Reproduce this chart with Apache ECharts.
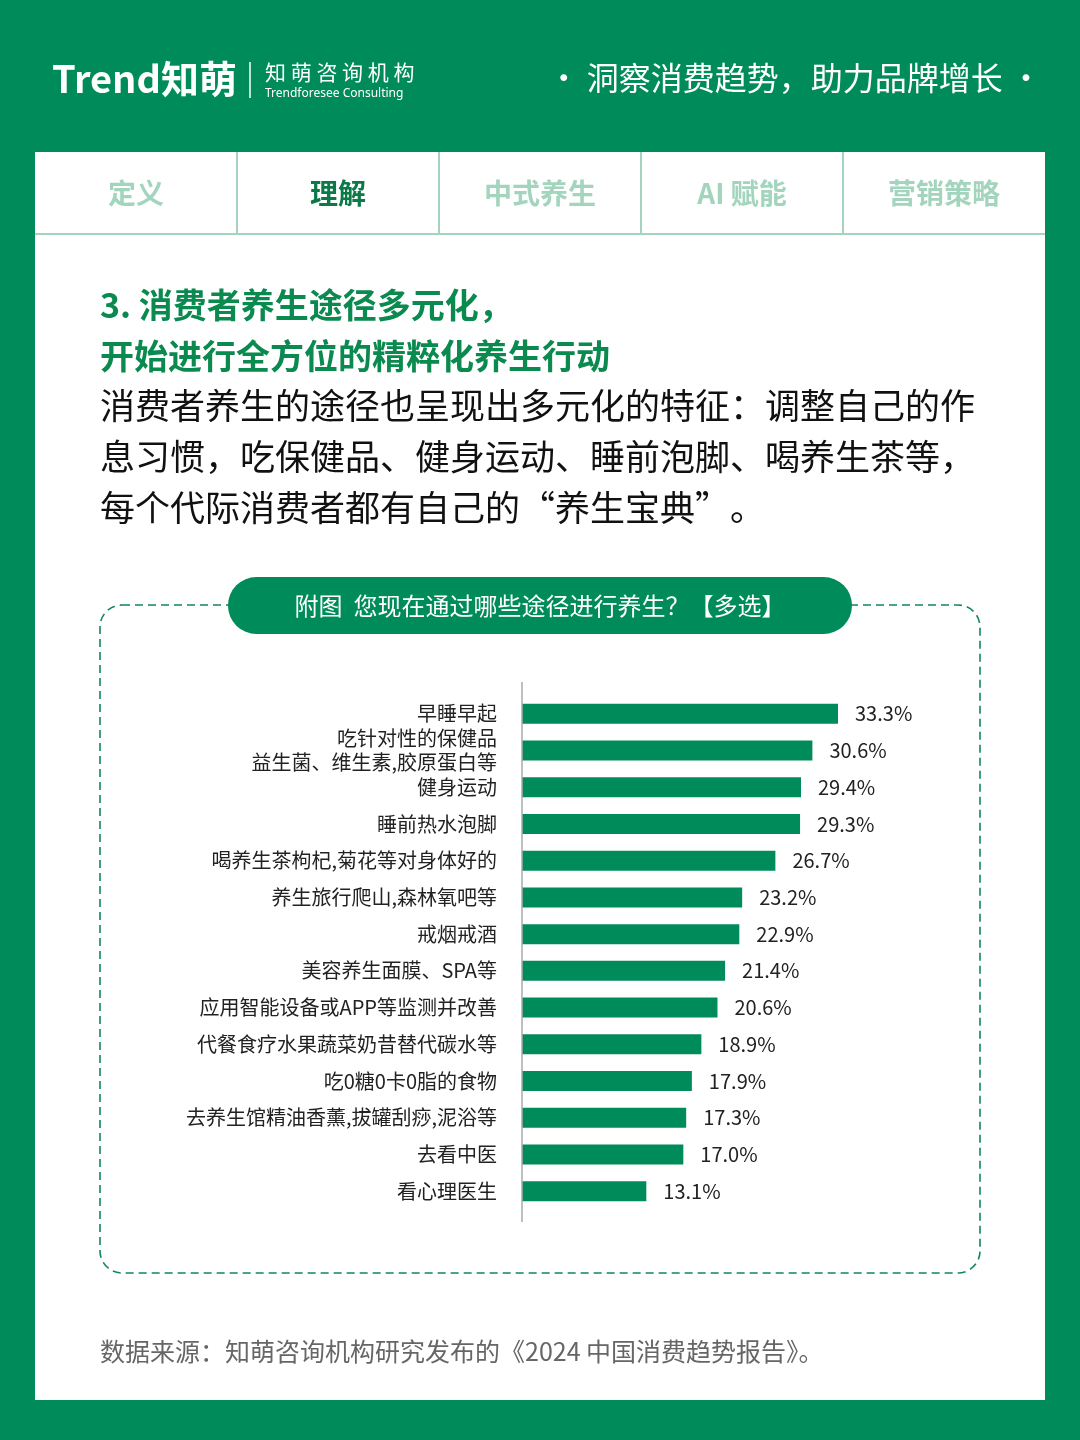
<!DOCTYPE html>
<html>
<head>
<meta charset="utf-8">
<script src="https://cdn.jsdelivr.net/npm/echarts@6/dist/echarts.min.js"></script>
<style>
html,body{margin:0;padding:0;background:#008c5a;}
#main{width:1080px;height:1440px;}
</style>
</head>
<body>
<div id="main"></div>
<script>
// ---- data ----
const categories = [
  '早睡早起',
  '吃针对性的保健品\n益生菌、维生素,胶原蛋白等',
  '健身运动',
  '睡前热水泡脚',
  '喝养生茶枸杞,菊花等对身体好的',
  '养生旅行爬山,森林氧吧等',
  '戒烟戒酒',
  '美容养生面膜、SPA等',
  '应用智能设备或APP等监测并改善',
  '代餐食疗水果蔬菜奶昔替代碳水等',
  '吃0糖0卡0脂的食物',
  '去养生馆精油香薰,拔罐刮痧,泥浴等',
  '去看中医',
  '看心理医生'
];
const values = [33.3, 30.6, 29.4, 29.3, 26.7, 23.2, 22.9, 21.4, 20.6, 18.9, 17.9, 17.3, 17.0, 13.1];
const tabs = ['定义', '理解', '中式养生', 'AI 赋能', '营销策略'];
const activeTab = 1;
const titleLines = ['3. 消费者养生途径多元化，', '开始进行全方位的精粹化养生行动'];
const paraLines = [
  '消费者养生的途径也呈现出多元化的特征：调整自己的作',
  '息习惯，吃保健品、健身运动、睡前泡脚、喝养生茶等，',
  '每个代际消费者都有自己的“养生宝典”。'
];
const chartTitle = '附图  您现在通过哪些途径进行养生？【多选】';
const sourceText = '数据来源：知萌咨询机构研究发布的《2024 中国消费趋势报告》。';

// ---- styles ----
const GREEN = '#008c5a';
const LIGHT = '#a3d4be';
const CJK = '"Noto Sans CJK SC", "Noto Sans", sans-serif';

const chart = echarts.init(document.getElementById('main'), null, {renderer: 'canvas'});

const graphics = [];
// white panel
graphics.push({type: 'rect', z: -10, shape: {x: 35, y: 152, width: 1010, height: 1248}, style: {fill: '#ffffff'}});
// header
graphics.push({type: 'text', x: 52, y: 79, style: {text: 'Trend知萌', font: 'bold 38px ' + CJK, fill: '#fff', textVerticalAlign: 'middle'}});
graphics.push({type: 'line', shape: {x1: 250, y1: 62, x2: 250, y2: 98}, style: {stroke: '#ffffff', lineWidth: 1.5}});
graphics.push({type: 'text', x: 265, y: 72, style: {text: '知 萌 咨 询 机 构', font: '21px ' + CJK, fill: '#fff', textVerticalAlign: 'middle'}});
graphics.push({type: 'text', x: 265, y: 94, style: {text: 'Trendforesee Consulting', font: '12px "Noto Sans", sans-serif', fill: '#fff', textVerticalAlign: 'middle'}});
graphics.push({type: 'text', x: 1042, y: 78, style: {text: '· 洞察消费趋势，助力品牌增长 ·', font: '32px ' + CJK, fill: '#fff', textAlign: 'right', textVerticalAlign: 'middle'}});
// tabs
const tabW = 202;
for (let i = 1; i < tabs.length; i++) {
  graphics.push({type: 'line', shape: {x1: 35 + tabW * i, y1: 152, x2: 35 + tabW * i, y2: 234}, style: {stroke: LIGHT, lineWidth: 2}});
}
graphics.push({type: 'line', shape: {x1: 35, y1: 234, x2: 1045, y2: 234}, style: {stroke: LIGHT, lineWidth: 2}});
tabs.forEach((t, i) => {
  graphics.push({type: 'text', x: 35 + tabW * i + tabW / 2, y: 193, style: {
    text: t, font: 'bold 28px ' + CJK, fill: i === activeTab ? '#0b7a48' : LIGHT, textAlign: 'center', textVerticalAlign: 'middle'}});
});
// title
titleLines.forEach((t, i) => {
  graphics.push({type: 'text', x: 100, y: 305 + i * 51, style: {text: t, font: 'bold 34px ' + CJK, fill: '#0b8a50', textVerticalAlign: 'middle'}});
});
paraLines.forEach((t, i) => {
  graphics.push({type: 'text', x: 100, y: 406 + i * 51, style: {text: t, font: '35px ' + CJK, fill: '#111', textVerticalAlign: 'middle'}});
});
// dashed box
graphics.push({type: 'rect', shape: {x: 100, y: 605, width: 880, height: 668, r: 22}, style: {fill: null, stroke: '#13875a', lineWidth: 1.6, lineDash: [8, 5]}});
graphics.push({type: 'rect', shape: {x: 228, y: 577, width: 624, height: 57, r: 28.5}, style: {fill: GREEN}});
graphics.push({type: 'text', x: 540, y: 606, style: {text: chartTitle, font: '24px ' + CJK, fill: '#fff', textAlign: 'center', textVerticalAlign: 'middle'}});
// extended y axis line
graphics.push({type: 'line', z: 5, shape: {x1: 522, y1: 682, x2: 522, y2: 1222}, style: {stroke: '#aaaaaa', lineWidth: 1.5}});
// source
graphics.push({type: 'text', x: 100, y: 1351, style: {text: sourceText, font: '25px ' + CJK, fill: '#666', textVerticalAlign: 'middle'}});

chart.setOption({
  backgroundColor: GREEN,
  animation: false,
  graphic: {elements: graphics},
  grid: {left: 522, top: 695.5, bottom: 230.5, width: 379.6},
  xAxis: {type: 'value', min: 0, max: 40, show: false},
  yAxis: {
    type: 'category', data: categories, inverse: true,
    axisLine: {show: false}, axisTick: {show: false}, splitLine: {show: false},
    axisLabel: {margin: 25, fontSize: 20, color: '#222', fontFamily: CJK, lineHeight: 24}
  },
  series: [{
    type: 'bar', data: values, barWidth: 20,
    itemStyle: {color: GREEN},
    label: {show: true, position: 'right', distance: 17, fontSize: 20, color: '#222', fontFamily: CJK,
      formatter: p => p.value.toFixed(1) + '%'}
  }]
});
</script>
</body>
</html>
